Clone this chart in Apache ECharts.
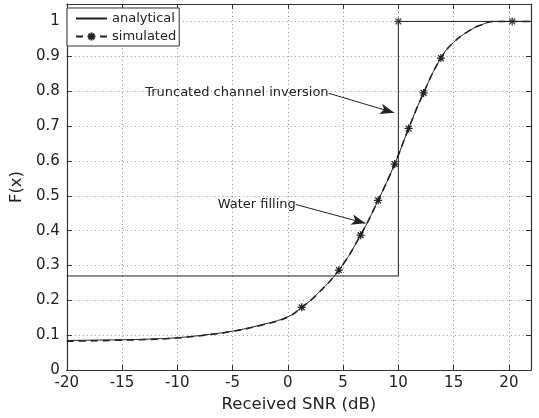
<!DOCTYPE html>
<html lang="en">
<head>
    <meta charset="UTF-8">
    <title>F(x) vs received SNR</title>
    <script src="https://cdn.jsdelivr.net/npm/echarts@6/dist/echarts.min.js"></script>
    <style>
        html, body { margin: 0; padding: 0; background: #fff; }
        #chart { width: 539px; height: 418px; }
    </style>
</head>
<body>
<div id="chart"></div>
<script type="text/javascript">
    // water filling curve
    var wfSnr = [-20, -17.5, -15, -12.5, -10, -7.5, -5, -2.5, 0, 1.26, 2.5, 4.62, 6.58, 8.17, 9.67, 10.93, 12.28, 13.85, 15, 16.5, 17.5, 18.6, 20, 22];
    var wfAnalytical = [0.085, 0.086, 0.087, 0.089, 0.093, 0.101, 0.112, 0.129, 0.153, 0.18, 0.213, 0.287, 0.387, 0.487, 0.591, 0.693, 0.795, 0.895, 0.94, 0.975, 0.99, 1, 1, 1];
    var wfSimulated = [0.083, 0.084, 0.086, 0.088, 0.092, 0.100, 0.111, 0.128, 0.152, 0.18, 0.213, 0.287, 0.387, 0.487, 0.591, 0.693, 0.795, 0.895, 0.94, 0.975, 0.99, 1, 1, 1];
    var wfMarker = [0, 0, 0, 0, 0, 0, 0, 0, 0, 1, 0, 1, 1, 1, 1, 1, 1, 1, 0, 0, 0, 0, 0, 0];

    // truncated channel inversion
    var tciSnr = [-20, 10, 10, 22];
    var tciAnalytical = [0.27, 0.27, 1, 1];
    var tciSimSnr = [10, 20.3];
    var tciSimulated = [1, 1];

    var xTicks = [-20, 22, 5];   // min, max, step
    var yTicks = [0, 1.05, 0.1];

    var ink = '#222';
    var star = 'path://M0,-5L0,5M-5,0L5,0M-3.6,-3.6L3.6,3.6M-3.6,3.6L3.6,-3.6';
    var font = 'DejaVu Sans, sans-serif';

    function pairs(xs, ys) {
        var out = [];
        for (var i = 0; i < xs.length; i++) out.push([xs[i], ys[i]]);
        return out;
    }

    var simData = [];
    for (var i = 0; i < wfSnr.length; i++) {
        var item = {value: [wfSnr[i], wfSimulated[i]]};
        if (!wfMarker[i]) item.symbol = 'none';
        simData.push(item);
    }

    var gridLine = {show: true, lineStyle: {color: '#999', type: [1, 3], width: 1}};
    var axisLine = {show: true, onZero: false, lineStyle: {color: '#333', width: 1.2}};
    var tick = {show: true, inside: true, length: 5, lineStyle: {color: '#333'}};

    var myChart = echarts.init(document.getElementById('chart'), null, {renderer: 'canvas'});
    var option = {
        animation: false,
        backgroundColor: '#fff',
        textStyle: {fontFamily: font},
        grid: {left: 65, right: 8, top: 4, bottom: 46},
        legend: {
            orient: 'vertical',
            left: 67, top: 8,
            data: [
                {name: 'analytical', itemStyle: {opacity: 0}},
                {name: 'simulated'}
            ],
            backgroundColor: '#fff',
            borderColor: '#333', borderWidth: 1,
            padding: [4, 3, 3, 8],
            itemWidth: 31, itemHeight: 10, itemGap: 5,
            textStyle: {fontSize: 13, color: ink, fontFamily: font}
        },
        xAxis: [{
            type: 'value', min: xTicks[0], max: xTicks[1], interval: xTicks[2],
            name: 'Received SNR (dB)', nameLocation: 'middle', nameGap: 25,
            nameTextStyle: {fontSize: 16.5, color: ink},
            axisLine: axisLine, axisTick: tick, splitLine: gridLine,
            axisLabel: {fontSize: 15, color: ink, margin: 6, showMaxLabel: false}
        }, {
            type: 'value', position: 'top', min: xTicks[0], max: xTicks[1], interval: xTicks[2],
            axisLine: axisLine, axisTick: tick, splitLine: {show: false}, axisLabel: {show: false}
        }],
        yAxis: [{
            type: 'value', min: yTicks[0], max: yTicks[1], interval: yTicks[2],
            name: 'F(x)', nameLocation: 'middle', nameGap: 37,
            nameTextStyle: {fontSize: 16.5, color: ink},
            axisLine: axisLine, axisTick: tick, splitLine: gridLine,
            axisLabel: {fontSize: 15, color: ink, margin: 7, showMaxLabel: false}
        }, {
            type: 'value', position: 'right', min: yTicks[0], max: yTicks[1], interval: yTicks[2],
            axisLine: axisLine, axisTick: tick, splitLine: {show: false}, axisLabel: {show: false}
        }],
        series: [
            {
                name: 'analytical', type: 'line',
                data: pairs(wfSnr, wfAnalytical),
                smooth: 0.45, symbol: 'none',
                lineStyle: {color: ink, width: 1},
                itemStyle: {color: ink},
                markLine: {
                    silent: true, symbol: ['none', 'arrow'], symbolSize: [8, 14],
                    label: {show: false},
                    lineStyle: {color: ink, width: 1, type: 'solid'},
                    data: [
                        [{coord: [3.69, 0.794]}, {coord: [9.62, 0.738]}],
                        [{coord: [0.72, 0.475]}, {coord: [7.02, 0.421]}]
                    ]
                },
                markPoint: {
                    silent: true, symbol: 'circle', symbolSize: 0,
                    label: {show: true, position: 'left', distance: 0, formatter: '{b}', fontSize: 13, color: ink, fontFamily: font},
                    data: [
                        {name: 'Truncated channel inversion', coord: [3.69, 0.795]},
                        {name: 'Water filling', coord: [0.72, 0.476]}
                    ]
                }
            },
            {
                name: 'analytical', type: 'line',
                data: pairs(tciSnr, tciAnalytical),
                symbol: 'none',
                lineStyle: {color: ink, width: 1},
                itemStyle: {color: ink}
            },
            {
                name: 'simulated', type: 'line',
                data: simData,
                smooth: 0.45,
                symbol: star, symbolSize: 8, showAllSymbol: true,
                lineStyle: {color: ink, width: 1.6, type: [7, 5]},
                itemStyle: {color: 'none', borderColor: ink, borderWidth: 1.3}
            },
            {
                name: 'simulated', type: 'scatter',
                data: pairs(tciSimSnr, tciSimulated),
                symbol: star, symbolSize: 8,
                itemStyle: {color: 'none', borderColor: ink, borderWidth: 1.3}
            }
        ]
    };
    myChart.setOption(option);
</script>
</body>
</html>
